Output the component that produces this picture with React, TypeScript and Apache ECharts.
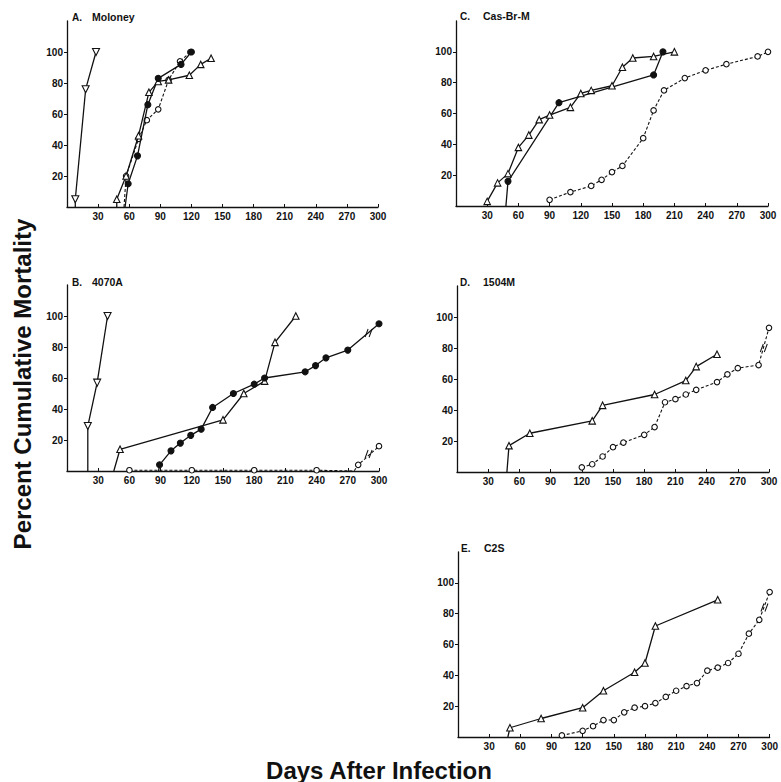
import React, { useEffect, useRef } from 'react';
import * as echarts from 'echarts';

const DAY_TICKS = [30, 60, 90, 120, 150, 180, 210, 240, 270, 300];
const PCT_TICKS = [20, 40, 60, 80, 100];

// Panel A: Moloney
const A_INV = [[8, 0], [8, 5], [18, 76], [28, 100]];
const A_FILLED = [[56, 0], [59, 15], [68, 33], [78, 66], [88, 83], [110, 92], [120, 100]];
const A_TRI = [[48, 0], [48, 5], [57, 20], [69, 46], [79, 74], [88, 81], [98, 82], [118, 85], [129, 92], [139, 96]];
const A_OPEN = [[55, 0], [57, 20], [69, 44], [77, 56], [88, 63], [98, 82], [109, 94], [119, 100]];

// Panel B: 4070A
const B_INV = [[20, 0], [20, 29], [29, 57], [39, 100]];
const B_TRI = [[45, 0], [51, 14], [150, 33], [170, 50], [190, 58], [200, 83], [220, 100]];
const B_FILLED = [[88, 0], [89, 4], [100, 13], [109, 18], [119, 23], [129, 27], [140, 41], [160, 50], [180, 56], [190, 60], [229, 64], [239, 68], [249, 73], [270, 78], [300, 95]];
const B_OPEN = [[60, 0.5], [120, 0.5], [180, 0.5], [240, 0.5], [276, 0], [280, 4], [300, 16]];
const B_FILLED_BREAK = [[290, 89]];
const B_OPEN_BREAK = [[290, 11]];

// Panel C: Cas-Br-M
const C_TRI = [[30, 3], [40, 15], [50, 21], [60, 38], [70, 46], [80, 56], [90, 59], [110, 64], [120, 73], [130, 75], [150, 78], [160, 90], [170, 96], [190, 97], [210, 100]];
const C_FILLED = [[48, 0], [50, 16], [99, 67], [190, 85], [199, 100]];
const C_OPEN = [[90, 4], [110, 9], [130, 13], [140, 17], [150, 22], [160, 26], [180, 44], [190, 62], [200, 75], [220, 83], [240, 88], [260, 92], [290, 97], [300, 100]];

// Panel D: 1504M
const D_TRI = [[48, 0], [50, 17], [70, 25], [130, 33], [140, 43], [190, 50], [220, 59], [230, 68], [250, 76]];
const D_OPEN = [[120, 3], [130, 5], [140, 10], [150, 16], [160, 19], [180, 24], [190, 29], [200, 45], [210, 47], [220, 50], [230, 53], [250, 58], [260, 63], [270, 67], [290, 69], [300, 93]];
const D_OPEN_BREAK = [[295, 80]];

// Panel E: C2S
const E_TRI = [[48, 0], [50, 6], [80, 12], [120, 19], [140, 30], [170, 42], [180, 48], [190, 72], [250, 89]];
const E_OPEN = [[100, 1], [120, 4], [130, 7], [140, 11], [150, 11], [160, 16], [170, 19], [180, 20], [190, 22], [200, 26], [210, 30], [220, 33], [230, 35], [240, 43], [250, 45], [260, 48], [270, 54], [280, 67], [290, 76], [300, 94]];
const E_OPEN_BREAK = [[295, 84]];

const PANEL_LETTERS = ['A.', 'B.', 'C.', 'D.', 'E.'];
const PANEL_NAMES = ['Moloney', '4070A', 'Cas-Br-M', '1504M', 'C2S'];

const FONT = '"Liberation Sans", Arial, Helvetica, sans-serif';
const INK = '#111';

const GRIDS = [
  { left: 67, top: 21, width: 311, height: 186 },
  { left: 67, top: 285, width: 312, height: 186 },
  { left: 456, top: 21, width: 312, height: 185 },
  { left: 457, top: 286, width: 312, height: 186 },
  { left: 458, top: 552, width: 312, height: 185 },
];

const LABEL_POS = [
  { lx: 72, nx: 92, y: 17 },
  { lx: 72, nx: 92, y: 282 },
  { lx: 460, nx: 483, y: 16 },
  { lx: 460, nx: 483, y: 282 },
  { lx: 461, nx: 484, y: 548 },
];

type Kind = 'inv' | 'tri' | 'filled' | 'open';

function mk(grid: number, pts: number[][], kind: Kind, breaks?: number[][]) {
  const isOpen = kind === 'open';
  const symbol = kind === 'filled' || kind === 'open' ? 'circle' : 'triangle';
  const size = kind === 'inv' ? 7 : kind === 'tri' ? 6.5 : kind === 'filled' ? 6 : 5.5;
  const s: any = {
    type: 'line',
    xAxisIndex: grid,
    yAxisIndex: grid,
    symbol,
    symbolSize: size,
    symbolRotate: kind === 'inv' ? 180 : 0,
    showAllSymbol: true,
    data: pts.map(([x, y]) => (y === 0 ? { value: [x, y], symbol: 'none' } : [x, y])),
    lineStyle: { color: INK, width: isOpen ? 1.1 : 1.3, type: isOpen ? [3, 2] : 'solid' },
    itemStyle: {
      color: kind === 'filled' ? INK : '#fff',
      borderColor: INK,
      borderWidth: 1.1,
    },
    emphasis: { disabled: true },
    z: isOpen ? 2 : 3,
  };
  if (breaks) {
    s.markPoint = {
      symbol: 'path://M0,10 L3,0 M4,10 L7,0',
      symbolSize: [7, 8],
      itemStyle: { color: 'none', borderColor: INK, borderWidth: 1.1 },
      label: { show: false },
      data: breaks.map((b) => ({ coord: b })),
    };
  }
  return s;
}

export default function App() {
  const ref = useRef<HTMLDivElement>(null);
  useEffect(() => {
    if (!ref.current) return;
    const chart = echarts.init(ref.current, undefined, { renderer: 'svg' });
    const xAxes = GRIDS.map((_, i) => ({
      gridIndex: i,
      type: 'value',
      min: 0,
      max: 300,
      interval: 30,
      axisLine: { show: true, onZero: false, lineStyle: { color: INK, width: 1.3 } },
      axisTick: { show: true, inside: true, length: 3, customValues: DAY_TICKS, lineStyle: { color: INK } },
      axisLabel: { customValues: DAY_TICKS, margin: 4, color: INK, fontSize: 10, fontWeight: 'bold', fontFamily: FONT },
      splitLine: { show: false },
    }));
    const yAxes = GRIDS.map((_, i) => ({
      gridIndex: i,
      type: 'value',
      min: 0,
      max: 120,
      interval: 20,
      axisLine: { show: true, onZero: false, lineStyle: { color: INK, width: 1.3 } },
      axisTick: { show: true, inside: false, length: 3, customValues: PCT_TICKS, lineStyle: { color: INK } },
      axisLabel: { customValues: PCT_TICKS, margin: 4, color: INK, fontSize: 10, fontWeight: 'bold', fontFamily: FONT },
      splitLine: { show: false },
    }));
    const series = [
      mk(0, A_INV, 'inv'),
      mk(0, A_OPEN, 'open'),
      mk(0, A_TRI, 'tri'),
      mk(0, A_FILLED, 'filled'),
      mk(1, B_INV, 'inv'),
      mk(1, B_OPEN, 'open', B_OPEN_BREAK),
      mk(1, B_TRI, 'tri'),
      mk(1, B_FILLED, 'filled', B_FILLED_BREAK),
      mk(2, C_OPEN, 'open'),
      mk(2, C_TRI, 'tri'),
      mk(2, C_FILLED, 'filled'),
      mk(3, D_OPEN, 'open', D_OPEN_BREAK),
      mk(3, D_TRI, 'tri'),
      mk(4, E_OPEN, 'open', E_OPEN_BREAK),
      mk(4, E_TRI, 'tri'),
    ];
    const graphic: any[] = [];
    LABEL_POS.forEach((p, i) => {
      graphic.push({
        type: 'text', x: p.lx, y: p.y,
        style: { text: PANEL_LETTERS[i], fill: INK, font: `bold 10px ${FONT}`, verticalAlign: 'middle' },
      });
      graphic.push({
        type: 'text', x: p.nx, y: p.y,
        style: { text: PANEL_NAMES[i], fill: INK, font: `bold 10.5px ${FONT}`, verticalAlign: 'middle' },
      });
    });
    graphic.push({
      type: 'text', x: 22, y: 384, rotation: Math.PI / 2,
      style: { text: 'Percent Cumulative Mortality', fill: INK, font: `bold 24px ${FONT}`, align: 'center', verticalAlign: 'middle' },
    });
    graphic.push({
      type: 'text', x: 379, y: 770,
      style: { text: 'Days After Infection', fill: INK, font: `bold 24px ${FONT}`, align: 'center', verticalAlign: 'middle' },
    });
    chart.setOption({
      animation: false,
      backgroundColor: '#fff',
      grid: GRIDS.map((g) => ({ ...g, containLabel: false })),
      xAxis: xAxes,
      yAxis: yAxes,
      series,
      graphic,
    });
    return () => chart.dispose();
  }, []);
  return <div ref={ref} style={{ position: 'absolute', left: 0, top: 0, width: 781, height: 782 }} />;
}
